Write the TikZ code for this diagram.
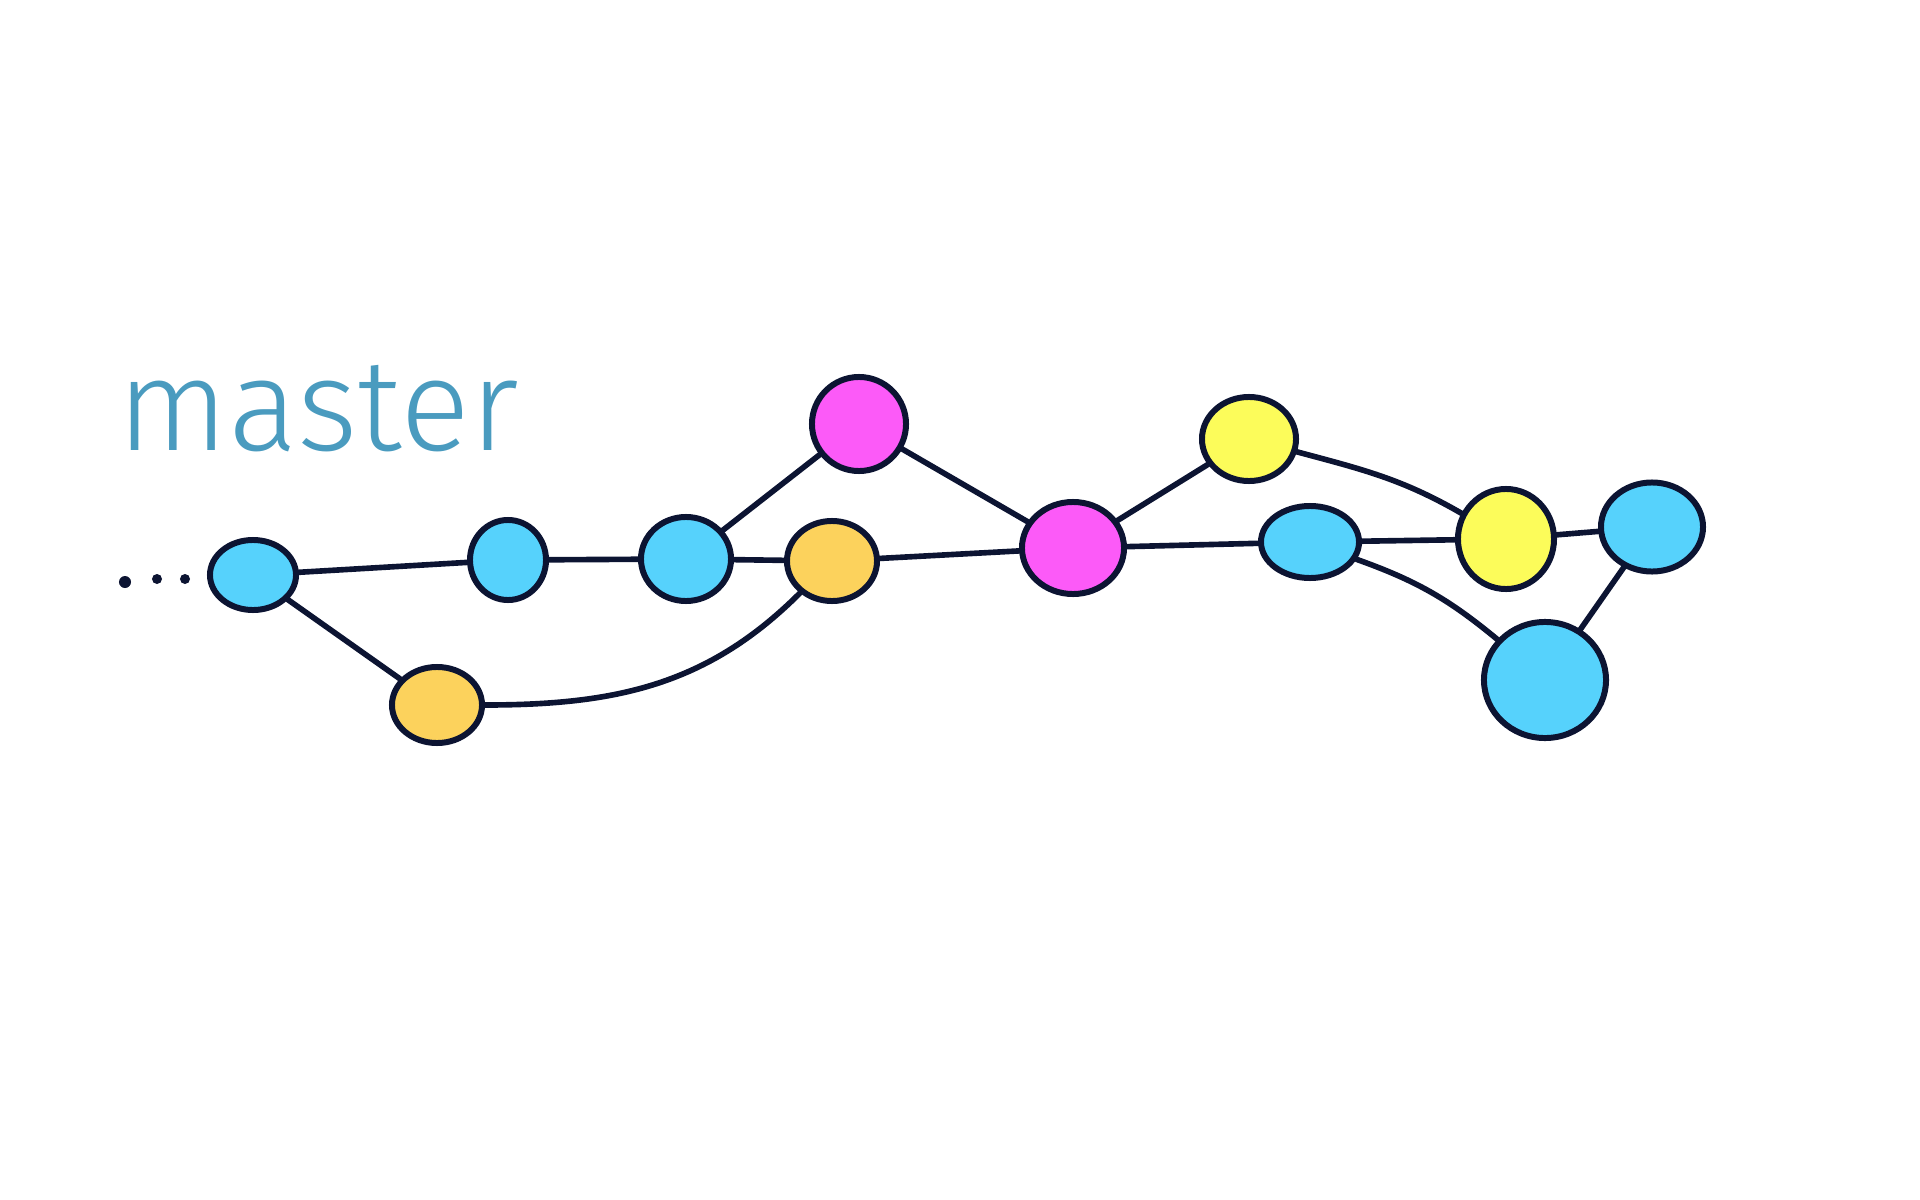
\documentclass[tikz,border=0pt]{standalone}
\usepackage{fontspec}
\usepackage{xcolor}
\newfontfamily\handfont{Fira Sans}[UprightFont=* Light]
\usetikzlibrary{positioning, shapes.geometric}
\definecolor{inkline}{RGB}{12,20,50}
\definecolor{labelblue}{RGB}{74,155,191}
\definecolor{cblue}{RGB}{86,210,252}
\definecolor{corange}{RGB}{252,210,92}
\definecolor{cmagenta}{RGB}{252,90,248}
\definecolor{cyellow}{RGB}{252,252,90}

\begin{document}
\begin{tikzpicture}[x=0.01cm,y=-0.01cm,
    commit/.style={ellipse,draw=inkline,line width=1.7pt,inner sep=0pt},
    link/.style={draw=inkline,line width=1.6pt,line cap=round},
    dotmark/.style={circle,fill=inkline,inner sep=0pt,minimum size=0.1cm}]
\useasboundingbox (0,0) rectangle (1920,1200);
% === branch label ===
\node[anchor=base west,inner sep=0pt,text=labelblue,font=\handfont\fontsize{37}{40}\selectfont] (label) at (117,450) {master};
% === earlier history ===
\node[dotmark,minimum size=0.12cm] (dot1) at (125,582) {};
\node[dotmark] (dot2) at (157,579) {};
\node[dotmark] (dot3) at (185,579) {};
% === commits ===
\node[commit,fill=cblue,minimum width=0.86cm,minimum height=0.70cm] (a) at (253,575) {};
\node[commit,fill=cblue,minimum width=0.76cm,minimum height=0.80cm] (b) at (508,560) {};
\node[commit,fill=corange,minimum width=0.90cm,minimum height=0.76cm] (c) at (437,705) {};
\node[commit,fill=cblue,minimum width=0.90cm,minimum height=0.84cm] (d) at (686,559) {};
\node[commit,fill=corange,minimum width=0.90cm,minimum height=0.80cm] (e) at (832,561) {};
\node[commit,fill=cmagenta,minimum width=0.94cm,minimum height=0.94cm] (f) at (859,424) {};
\node[commit,fill=cmagenta,minimum width=1.02cm,minimum height=0.92cm] (g) at (1073,548) {};
\node[commit,fill=cyellow,minimum width=0.94cm,minimum height=0.84cm] (h) at (1249,439) {};
\node[commit,fill=cblue,minimum width=0.98cm,minimum height=0.72cm] (i) at (1310,542) {};
\node[commit,fill=cyellow,minimum width=0.96cm,minimum height=1.00cm] (j) at (1506,539) {};
\node[commit,fill=cblue,minimum width=1.02cm,minimum height=0.89cm] (k) at (1652,527) {};
\node[commit,fill=cblue,minimum width=1.22cm,minimum height=1.16cm] (l) at (1545,680) {};
% === parent links ===
\draw[link] (a) -- (b);
\draw[link] (a) -- (c);
\draw[link] (b) -- (d);
\draw[link] (c) to[out=0,in=-135] (e);
\draw[link] (d) -- (e);
\draw[link] (d) -- (f);
\draw[link] (e) -- (g);
\draw[link] (f) -- (g);
\draw[link] (g) -- (h);
\draw[link] (g) -- (i);
\draw[link] (h) to[out=-15,in=150] (j);
\draw[link] (i) -- (j);
\draw[link] (i) to[bend left=10] (l);
\draw[link] (j) -- (k);
\draw[link] (k) -- (l);
\end{tikzpicture}
\end{document}
